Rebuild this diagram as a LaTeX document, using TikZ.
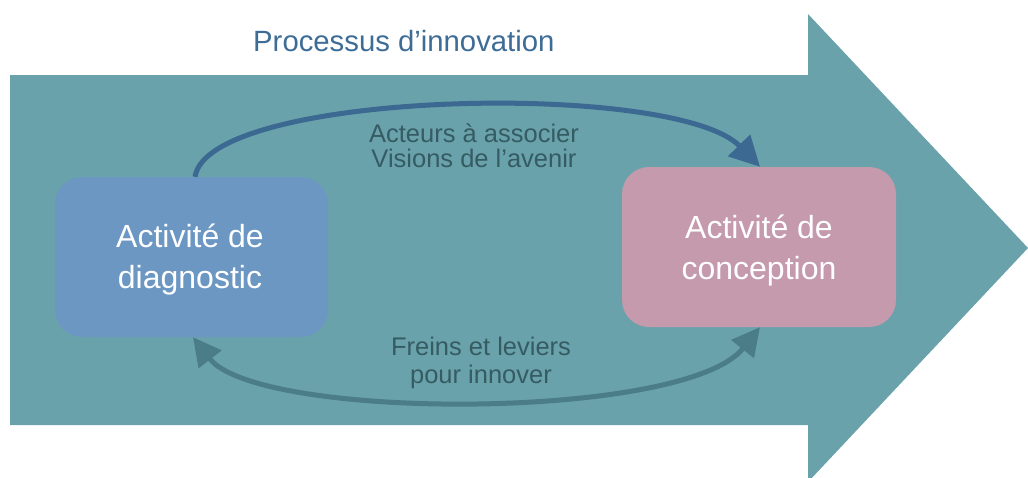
\documentclass[tikz,border=0pt]{standalone}
\usepackage{fontspec}
\setmainfont{Liberation Sans}
\usetikzlibrary{arrows.meta}
\definecolor{bigarrow}{HTML}{6AA2AB}
\definecolor{diagblue}{HTML}{6C97C3}
\definecolor{concpink}{HTML}{C49AAC}
\definecolor{toparrow}{HTML}{3B6992}
\definecolor{botarrow}{HTML}{4A7D88}
\definecolor{titlecol}{HTML}{3D6C96}
\definecolor{labelcol}{HTML}{355B63}
\begin{document}
\begin{tikzpicture}[x=1pt,y=-1pt,
  actbox/.style={rounded corners=27pt, minimum width=273pt, minimum height=160pt, inner sep=0pt, draw=none},
  boxtext/.style={font=\fontsize{32}{41}\selectfont, text=white, align=center, inner sep=0pt},
  lab/.style={font=\fontsize{25.5}{25}\selectfont, text=labelcol, align=center, inner sep=0pt},
  lab2/.style={font=\fontsize{25.5}{27.5}\selectfont, text=labelcol, align=center, inner sep=0pt},
  titlestyle/.style={font=\fontsize{29.3}{32}\selectfont, text=titlecol, inner sep=0pt},
  topconn/.style={draw=toparrow, line width=5pt, -{Triangle[length=30pt,width=30pt]}},
  botconn/.style={draw=botarrow, line width=5pt, {Triangle[length=28pt,width=28pt]}-{Triangle[length=28pt,width=28pt]}}
]
\useasboundingbox (0,0) rectangle (1028,477);
\fill[white] (0,0) rectangle (1028,477);
\begin{scope}
\clip (0,0) rectangle (1028,477);
\fill[bigarrow] (10,75) -- (808,75) -- (808,14) -- (1028,248) -- (808,482) -- (808,425) -- (10,425) -- cycle;
\end{scope}

\node[titlestyle, anchor=base west] (title) at (253,51) {Processus d’innovation};

\node[actbox, fill=diagblue] (diag) at (191.5,257) {};
\node[boxtext] (diagtext) at (190,260) {Activité de\\diagnostic};

\node[actbox, fill=concpink, minimum width=274pt] (conc) at (759,247) {};
\node[boxtext] (conctext) at (759,251) {Activité de\\conception};

\draw[topconn] ([xshift=3.5pt]diag.north) .. controls (208,90) and (675,80) .. ([xshift=1pt]conc.north);
\draw[botconn] ([xshift=1.5pt]diag.south) .. controls (258,421) and (685,421) .. ([xshift=1pt]conc.south);

\node[lab] (toplab) at (474,146) {Acteurs à associer\\Visions de l’avenir};
\node[lab2] (botlab) at (481,363) {Freins et leviers\\pour innover};
\end{tikzpicture}
\end{document}
